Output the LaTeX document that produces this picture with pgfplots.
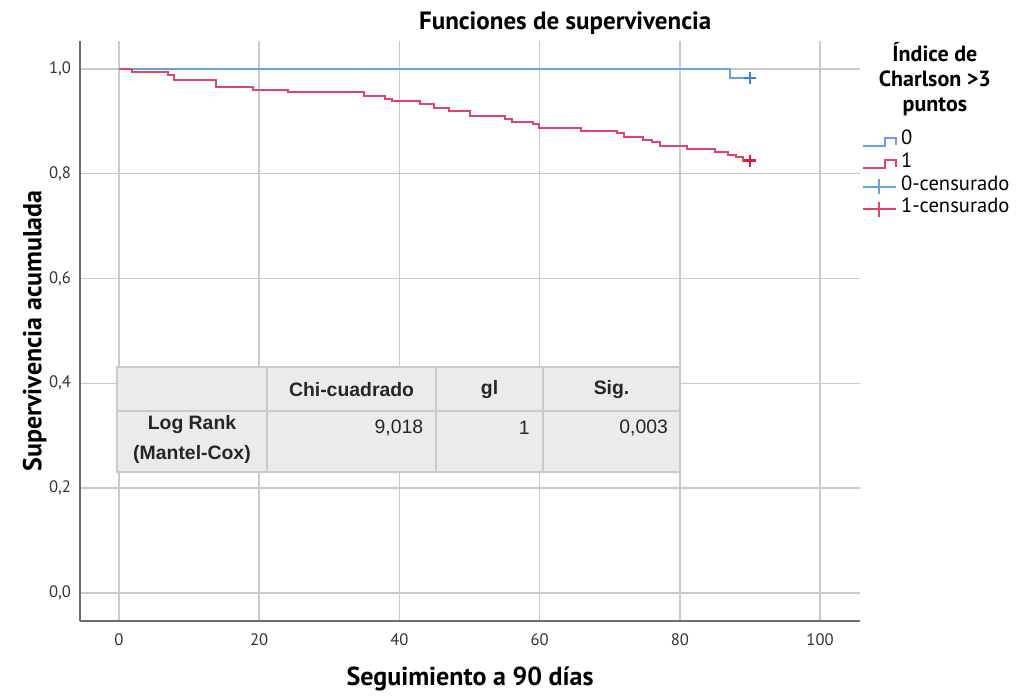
\documentclass[border=0pt]{standalone}
\usepackage{pgfplots}
\pgfplotsset{compat=1.18}
\usepackage{fontspec}
\setmainfont{PT Sans}
\newfontfamily\arial{Liberation Sans}

\definecolor{kmblue}{HTML}{6A9FE0}
\definecolor{kmbluedk}{HTML}{3F7FD6}
\definecolor{kmred}{HTML}{E0446A}
\definecolor{kmreddk}{HTML}{D81E45}
\definecolor{gridgray}{HTML}{CACACA}
\definecolor{cellgray}{HTML}{EBEBEB}
\definecolor{txtgray}{HTML}{333333}

\pgfplotsset{
    kmstep/.style={legend image code/.code={%
        \draw[##1] (0pt,-2pt) -- (11pt,-2pt) -- (11pt,2pt) -- (16.5pt,2pt) -- (16.5pt,-1.5pt);}},
    kmcens/.style={legend image code/.code={%
        \draw[#1, line width=1pt] (0pt,0pt) -- (16.5pt,0pt);
        \draw[#1, line width=1pt] (8pt,-3.75pt) -- (8pt,3.75pt);}},
}

\begin{document}
\begin{tikzpicture}
\begin{axis}[
    scale only axis,
    width=390pt, height=290pt,
    xmin=-5.56, xmax=105.7,
    ymin=-0.0534, ymax=1.053,
    axis x line=bottom, axis y line=left,
    axis line style={-, draw=gray!85!black, line width=1pt},
    xtick={0,20,...,100},
    ytick={0,0.2,...,1.0},
    major tick length=0pt,
    grid=major,
    grid style={draw=gridgray, line width=0.8pt},
    /pgf/number format/assume math mode=true,
    tick label style={font=\fontsize{8.3}{9}\selectfont, text=txtgray},
    yticklabel style={/pgf/number format/.cd, fixed, fixed zerofill, precision=1, use comma},
    xticklabel shift=3pt,
    yticklabel shift=1pt,
    xlabel={Seguimiento a 90 días},
    ylabel={Supervivencia acumulada},
    label style={font=\bfseries\fontsize{13}{15}\selectfont},
    xlabel style={at={(axis description cs:0.5,-0.10)}, anchor=center},
    ylabel style={at={(axis description cs:-0.058,0.5)}, anchor=center},
    clip=false,
    legend style={at={(axis description cs:1.0026,0.846)}, anchor=north west,
        draw=none, fill=none, font=\fontsize{10.3}{11}\selectfont,
        inner sep=0pt, outer sep=0pt,
        nodes={inner sep=0pt, text height=7.3pt, text depth=4pt},
        column sep=2pt, row sep=0pt},
    legend cell align=left,
]

% curva grupo 0
\addplot[const plot, color=kmblue, line width=1pt, kmstep]
    coordinates {(0,1.0)(87.1,0.982)(90.0,0.982)};

% curva grupo 1
\addplot[const plot, color=kmred, line width=1pt, kmstep]
    coordinates {
    (0,1.0)(1.9,0.994)(7.0,0.9885)(7.8,0.978)(13.9,0.9656)(19.1,0.960)
    (24.1,0.9548)(35.0,0.949)(37.9,0.943)(38.9,0.938)(42.9,0.932)(45.0,0.926)
    (47.0,0.920)(50.0,0.910)(55.1,0.904)(56.0,0.898)(59.0,0.894)(59.9,0.887)
    (65.9,0.882)(71.0,0.8766)(72.0,0.870)(74.8,0.8645)(76.0,0.860)(77.1,0.853)
    (81.0,0.847)(85.0,0.842)(86.9,0.836)(88.0,0.831)(89.0,0.825)(90.0,0.825)
    };

% censurados
\addplot[only marks, mark=+, mark size=3pt, color=kmbluedk, line width=1.2pt, kmcens=kmblue]
    coordinates {(90.0,0.982)};
\addplot[only marks, mark=+, mark size=3pt, color=kmreddk, line width=1.2pt, kmcens=kmred]
    coordinates {(90.0,0.825)};

\legend{0, 1, 0-censurado, 1-censurado}

% tabla Log Rank
\fill[cellgray] (axis cs:-0.29,0.2309) rectangle (axis cs:80.03,0.4313);
\draw[gridgray, line width=0.6pt] (axis cs:-0.29,0.2309) rectangle (axis cs:80.03,0.4313);
\draw[gridgray, line width=0.6pt] (axis cs:-0.29,0.3473) -- (axis cs:80.03,0.3473);
\draw[gridgray, line width=0.6pt] (axis cs:21.11,0.2309) -- (axis cs:21.11,0.4313);
\draw[gridgray, line width=0.6pt] (axis cs:45.22,0.2309) -- (axis cs:45.22,0.4313);
\draw[gridgray, line width=0.6pt] (axis cs:60.49,0.2309) -- (axis cs:60.49,0.4313);
\begin{scope}[every node/.style={font=\arial\fontsize{9.7}{14}\selectfont, text=black!85}]
\node[font=\arial\bfseries\fontsize{9.7}{14}\selectfont] at (axis cs:33.17,0.389) {Chi-cuadrado};
\node[font=\arial\bfseries\fontsize{9.7}{14}\selectfont] at (axis cs:52.86,0.389) {gl};
\node[font=\arial\bfseries\fontsize{9.7}{14}\selectfont] at (axis cs:70.26,0.389) {Sig.};
\node[font=\arial\bfseries\fontsize{9.7}{15}\selectfont, align=center] at (axis cs:10.41,0.292) {Log Rank\\(Mantel-Cox)};
\node[anchor=east] at (axis cs:44.4,0.315) {9,018};
\node[anchor=east] at (axis cs:59.6,0.315) {1};
\node[anchor=east] at (axis cs:79.3,0.315) {0,003};
\end{scope}

% titulos
\node[font=\bfseries\fontsize{12.5}{14}\selectfont, anchor=center] at (axis description cs:0.622,1.030) {Funciones de supervivencia};
\node[font=\bfseries\fontsize{11}{12.5}\selectfont, align=center, anchor=center] at (axis description cs:1.096,0.935) {Índice de\\Charlson >3\\puntos};

% tamaño del lienzo
\path (axis description cs:-0.1026,-0.1241) rectangle (axis description cs:1.2,1.0707);
\end{axis}
\end{tikzpicture}
\end{document}
